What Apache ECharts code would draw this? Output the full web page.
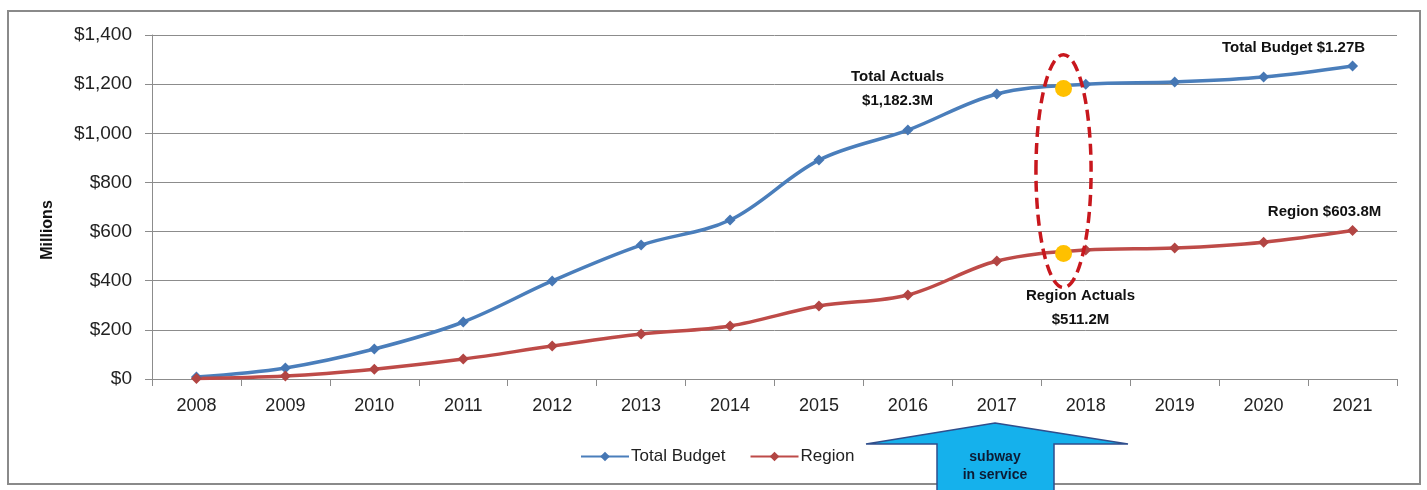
<!DOCTYPE html>
<html>
<head>
<meta charset="utf-8">
<script src="https://cdn.jsdelivr.net/npm/echarts@6/dist/echarts.min.js"></script>
<style>
  html, body { margin: 0; padding: 0; background: #fff; }
  #chart { width: 1427px; height: 490px; }
</style>
</head>
<body>
<div id="chart"></div>
<script>
const years = ["2008", "2009", "2010", "2011", "2012", "2013", "2014", "2015", "2016", "2017", "2018", "2019", "2020", "2021"];
const totalBudget = [8, 45, 122, 232, 399, 545, 647, 891, 1013, 1160, 1200, 1209, 1229, 1274];
const region = [2, 12, 40, 81, 134, 183, 216, 297, 342, 480, 525, 533, 557, 604];
// actuals to date sit between the 2017 and 2018 points
const actualsPos = 9.75;
const totalActuals = 1182.3;
const regionActuals = 511.2;
const yTicks = [0, 200, 400, 600, 800, 1000, 1200, 1400];

const chart = echarts.init(document.getElementById("chart"));
const font = "'Liberation Sans', Arial, sans-serif";
const blue = "#4A7EBB";
const red = "#BE4B48";

function noteLabel(text, offset) {
  return {
    show: true,
    position: "top",
    offset: offset,
    formatter: text,
    fontFamily: font,
    fontWeight: "bold",
    fontSize: 15,
    lineHeight: 24,
    align: "center",
    color: "#111",
  };
}

const budgetData = totalBudget.map((v, i) =>
  i === totalBudget.length - 1 ? { value: v, label: noteLabel("Total Budget $1.27B", [-59, 4]) } : v
);
const regionData = region.map((v, i) =>
  i === region.length - 1 ? { value: v, label: noteLabel("Region $603.8M", [-28, 4]) } : v
);

chart.setOption({
  animation: false,
  backgroundColor: "#fff",
  grid: { left: 152, right: 30, top: 35, bottom: 111 },
  legend: {
    left: 575,
    top: 443,
    itemWidth: 48,
    itemHeight: 12,
    itemGap: 24,
    textStyle: { fontFamily: font, fontSize: 17, color: "#222", padding: [0, 0, 0, -3] },
    data: ["Total Budget", "Region"],
  },
  xAxis: [
    {
      type: "category",
      data: years,
      boundaryGap: true,
      axisLine: { lineStyle: { color: "#8c8c8c", width: 1 } },
      axisTick: { show: true, length: 7, lineStyle: { color: "#8c8c8c" } },
      axisLabel: { fontFamily: font, fontSize: 18, color: "#222", margin: 18 },
    },
    {
      type: "value",
      min: -0.5,
      max: years.length - 0.5,
      show: false,
    },
  ],
  yAxis: {
    type: "value",
    min: 0,
    max: 1400,
    interval: 200,
    name: "Millions",
    nameLocation: "middle",
    nameRotate: 90,
    nameGap: 96,
    nameTextStyle: {
      fontFamily: font, fontWeight: "bold", fontSize: 16, color: "#111",
      padding: [0, 46, 0, 0],
    },
    axisLine: { show: true, onZero: false, lineStyle: { color: "#8c8c8c", width: 1 } },
    axisTick: { show: true, length: 7, lineStyle: { color: "#8c8c8c" } },
    axisLabel: {
      fontFamily: font,
      fontSize: 19,
      color: "#222",
      margin: 20,
      formatter: (v) => (yTicks.includes(v) ? "$" + v.toLocaleString("en-US") : ""),
    },
    splitLine: { lineStyle: { color: "#8c8c8c", width: 1 } },
  },
  series: [
    {
      name: "Total Budget",
      type: "line",
      data: budgetData,
      smooth: 0.35,
      symbol: "diamond",
      symbolSize: 11,
      color: blue,
      lineStyle: { color: blue, width: 3.5 },
      itemStyle: { color: "#4677B4" },
      z: 3,
    },
    {
      name: "Region",
      type: "line",
      data: regionData,
      smooth: 0.35,
      symbol: "diamond",
      symbolSize: 11,
      color: red,
      lineStyle: { color: red, width: 3.5 },
      itemStyle: { color: "#B24543" },
      z: 3,
    },
    {
      name: "ellipse",
      type: "custom",
      xAxisIndex: 1,
      clip: false,
      z: 5,
      data: [[actualsPos, 1320, 372]],
      renderItem: (params, api) => {
        const top = api.coord([api.value(0), api.value(1)]);
        const bottom = api.coord([api.value(0), api.value(2)]);
        const side = api.coord([api.value(0) + 0.31, api.value(2)]);
        return {
          type: "ellipse",
          shape: {
            cx: top[0],
            cy: (top[1] + bottom[1]) / 2,
            rx: side[0] - top[0],
            ry: (bottom[1] - top[1]) / 2,
          },
          style: { fill: "none", stroke: "#C8171D", lineWidth: 3.5, lineDash: [11, 6] },
        };
      },
    },
    {
      name: "actuals",
      type: "scatter",
      xAxisIndex: 1,
      symbolSize: 17,
      z: 4,
      itemStyle: { color: "#FFC000", opacity: 1 },
      data: [
        { value: [actualsPos, totalActuals], label: noteLabel("Total Actuals\n$1,182.3M", [-166, 38]) },
        { value: [actualsPos, regionActuals], label: noteLabel("Region Actuals\n$511.2M", [17, 92]) },
      ],
    },
  ],
  graphic: [
    {
      type: "rect",
      shape: { x: 8, y: 11, width: 1412, height: 473 },
      style: { fill: "none", stroke: "#8a8a8a", lineWidth: 2 },
      silent: true,
    },
    {
      type: "polygon",
      shape: {
        points: [
          [995, 423], [1128, 444], [1054, 444], [1054, 492],
          [937, 492], [937, 444], [866, 444],
        ],
      },
      style: { fill: "#15B1EC", stroke: "#2F4E8C", lineWidth: 1.5 },
      z: 10,
    },
    {
      type: "text",
      x: 995,
      y: 448,
      z: 11,
      style: {
        text: "subway\nin service",
        align: "center",
        verticalAlign: "top",
        fontFamily: font,
        fontWeight: "bold",
        fontSize: 14,
        lineHeight: 18,
        fill: "#0d1b33",
      },
    },
  ],
});
</script>
</body>
</html>
